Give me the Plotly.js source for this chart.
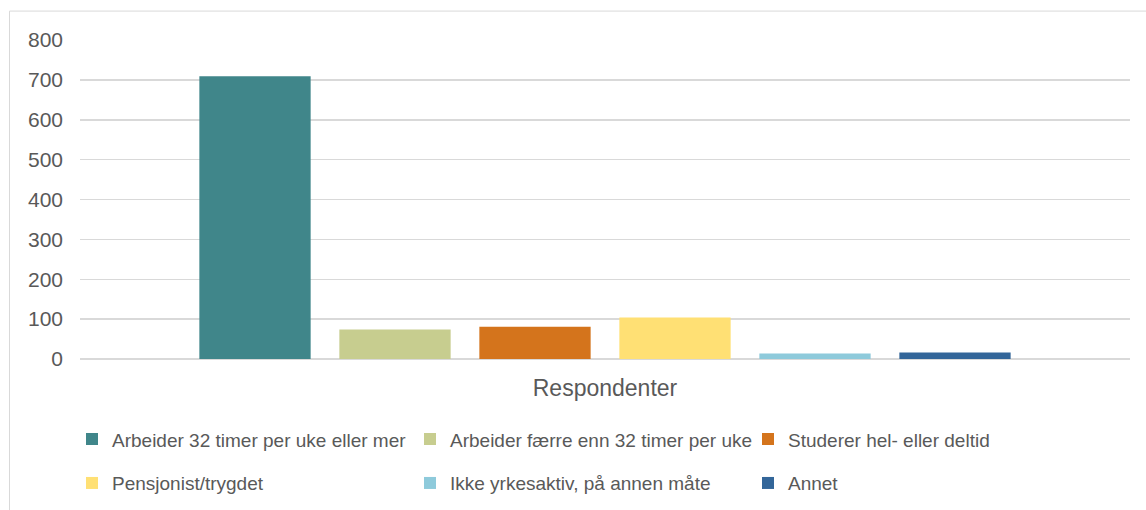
<!DOCTYPE html>
<html><head><meta charset="utf-8">
<script src="https://cdn.plot.ly/plotly-3.0.1.min.js"></script>
<style>html,body{margin:0;padding:0;background:#fff}#chart{width:1146px;height:510px}</style>
</head><body><div id="chart"></div>
<script>
const category = ["Respondenter"];
const seriesNames = [
  "Arbeider 32 timer per uke eller mer",
  "Arbeider færre enn 32 timer per uke",
  "Studerer hel- eller deltid",
  "Pensjonist/trygdet",
  "Ikke yrkesaktiv, på annen måte",
  "Annet"
];
const seriesValues = [709, 74, 81, 104, 14, 16];
const seriesColors = ["#40868A", "#C7CD8F", "#D4741C", "#FFE074", "#8ECADB", "#336699"];
const yTicks = [0, 100, 200, 300, 400, 500, 600, 700, 800];

const traces = seriesNames.map((n, i) => ({
  type: "bar", name: n, x: category, y: [seriesValues[i]],
  legend: i < 3 ? "legend" : "legend2",
  marker: {color: seriesColors[i]}, hoverinfo: "none"
}));

const L = 80, R = 16, T = 39.5, B = 150.5;
const pw = 1146 - L - R, ph = 510 - T - B;
const legendFont = {family: "Liberation Sans, Arial, sans-serif", size: 19, color: "#595959"};
const legendBase = {
  orientation: "h", xanchor: "left", yanchor: "middle",
  font: legendFont, entrywidth: 293, entrywidthmode: "pixels",
  itemwidth: 30, traceorder: "normal", bgcolor: "rgba(0,0,0,0)"
};
const layout = {
  width: 1146, height: 510,
  margin: {l: L, r: R, t: T, b: B, pad: 0, autoexpand: false},
  paper_bgcolor: "#fff", plot_bgcolor: "#fff",
  font: {family: "Liberation Sans, Arial, sans-serif", color: "#595959", size: 19},
  barmode: "group", bargap: 0.2, bargroupgap: 0.205,
  showlegend: true,
  legend: Object.assign({}, legendBase, {x: (72 - L) / pw, y: (510 - B - 440) / ph}),
  legend2: Object.assign({}, legendBase, {x: (72 - L) / pw, y: (510 - B - 484) / ph}),
  xaxis: {
    showgrid: false, zeroline: false, showline: false, ticks: "", automargin: false,
    tickfont: {size: 23, color: "#595959"}, ticklabelstandoff: 13, fixedrange: true
  },
  yaxis: {
    range: [0, 800], tickvals: yTicks, ticktext: yTicks.map(String), automargin: false,
    showgrid: true, gridcolor: "#d9d9d9", gridwidth: 1.5,
    zeroline: true, zerolinecolor: "#d9d9d9", zerolinewidth: 1.5,
    showline: false, ticks: "", ticklabelstandoff: 16,
    tickfont: {size: 21, color: "#595959"}, fixedrange: true
  },
  shapes: [{
    type: "rect", xref: "paper", yref: "paper", layer: "below",
    x0: (9.5 - L) / pw, x1: (1150 - L) / pw,
    y0: (510 - B - 515) / ph, y1: (510 - B - 10.5) / ph,
    line: {color: "#d9d9d9", width: 1}, fillcolor: "rgba(0,0,0,0)"
  }]
};
Plotly.newPlot("chart", traces, layout, {displayModeBar: false, staticPlot: true});
</script></body></html>
